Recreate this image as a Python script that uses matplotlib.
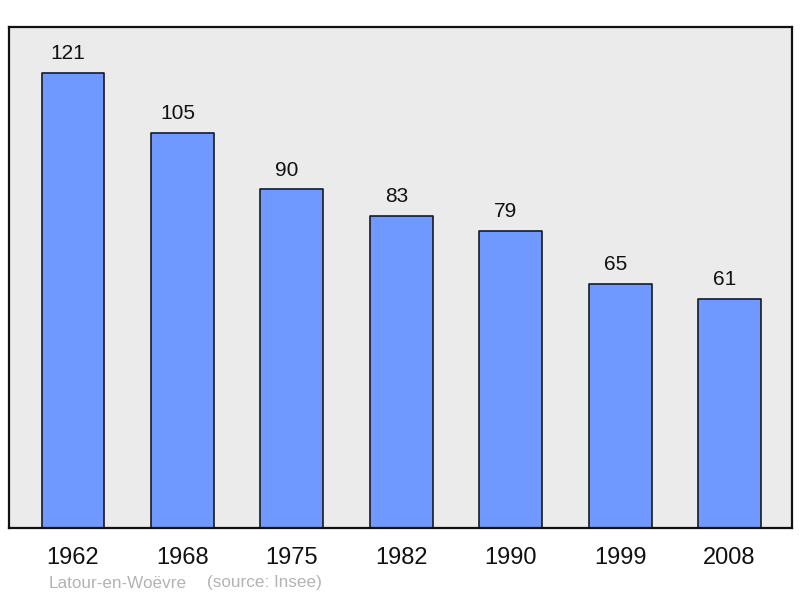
import matplotlib
matplotlib.use("Agg")
import matplotlib.pyplot as plt

years = ["1962", "1968", "1975", "1982", "1990", "1999", "2008"]
population = [121, 105, 90, 83, 79, 65, 61]
place = "Latour-en-Woëvre"
source = "(source: Insee)"

plt.rcParams['font.family'] = ['Liberation Sans', 'DejaVu Sans']

fig = plt.figure(figsize=(8, 5.98), dpi=100)
ax = fig.add_axes([9/800, 70/598, 783/800, 501/598])
ax.set_facecolor('#ebebeb')

x = list(range(len(years)))
bars = ax.bar(x, population, width=0.575, color='#7099ff', edgecolor='#1a1a1a',
              linewidth=1.2, joinstyle='round', zorder=2)
for xi, v in zip(x, population):
    ax.annotate(str(v), (xi, v), xytext=(-3.5, 7), textcoords='offset points',
                ha='center', va='bottom', fontsize=15, color='#111111')

ax.set_xlim(-0.585, 6.57)
ax.set_ylim(0, 133.2)
ax.set_yticks([])
ax.set_xticks(x)
ax.set_xticklabels(years, fontsize=17, color='#111111')
ax.tick_params(axis='x', length=0, pad=14)
for s in ax.spines.values():
    s.set_linewidth(1.6)
    s.set_color('#111111')

fig.text(49/800, 1 - 583/598, place, fontsize=12.3,
         color='#b3b3b3', ha='left', va='center')
fig.text(207/800, 1 - 583/598, source, fontsize=12.3,
         color='#b3b3b3', ha='left', va='center')

fig.savefig("out.png", dpi=100)
